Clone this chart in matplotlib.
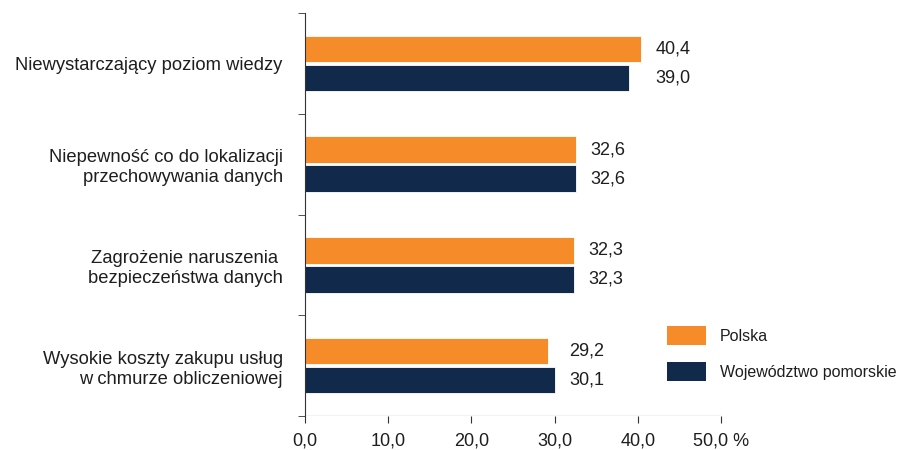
import numpy as np
import matplotlib.pyplot as plt
from matplotlib.patches import Patch

plt.rcParams['font.family'] = ['Liberation Sans', 'DejaVu Sans']

categories = ['Niewystarczający poziom wiedzy',
              'Niepewność co do lokalizacji\nprzechowywania danych',
              'Zagrożenie naruszenia \nbezpieczeństwa danych',
              'Wysokie koszty zakupu usług\nw chmurze obliczeniowej']
polska = [40.4, 32.6, 32.3, 29.2]
pomorskie = [39.0, 32.6, 32.3, 30.1]
series_names = ['Polska', 'Województwo pomorskie']
xticks = [0, 10, 20, 30, 40, 50]

orange = '#F68B2A'
navy = '#112A4B'
txt = '#1e1e1e'


def fmt(v):
    return f'{v:.1f}'.replace('.', ',')


fig = plt.figure(figsize=(8.98, 4.5), dpi=100)
ax = fig.add_axes([305 / 898, 1 - 416 / 450, 416 / 898, 403 / 450])

y = np.arange(len(categories))
h = 0.265
off = 0.144
ax.barh(y - off, polska, height=h, color=orange, edgecolor='white', linewidth=0.6)
ax.barh(y + off, pomorskie, height=h, color=navy, edgecolor='white', linewidth=0.6)

# labels sit just past the longer bar of each pair
for yi, a, b in zip(y, polska, pomorskie):
    xl = max(a, b) + 1.7
    ax.text(xl, yi - off, fmt(a), va='center', ha='left', fontsize=13, color=txt)
    ax.text(xl, yi + off, fmt(b), va='center', ha='left', fontsize=13, color=txt)

ax.set_xlim(0, 50)
ax.set_ylim(len(categories) - 0.5, -0.5)
ax.set_xticks(xticks)
ax.set_xticklabels([fmt(t) for t in xticks[:-1]] + ['50,0 %'], fontsize=13, color=txt)
ax.set_yticks(y)
ax.set_yticklabels(categories, fontsize=13.2, color=txt, linespacing=1.25)
ax.tick_params(axis='y', which='major', length=0, pad=16)
ax.set_yticks(np.arange(-0.5, len(categories)), minor=True)
ax.tick_params(axis='y', which='minor', length=5, direction='out', color='#333333')
ax.tick_params(axis='x', length=5, direction='out', color='#333333', pad=7)

for s in ['top', 'right', 'bottom']:
    ax.spines[s].set_visible(False)
ax.spines['left'].set_color('#333333')
ax.axhline(len(categories) - 0.5, color='#333333', linewidth=0.8)

handles = [Patch(facecolor=orange), Patch(facecolor=navy)]
fig.legend(handles, series_names, loc='upper left', bbox_to_anchor=(653 / 898, 1 - 312 / 450),
           frameon=False, fontsize=11.5, handlelength=2.4, handleheight=1.45,
           labelspacing=1.05, handletextpad=0.9, labelcolor=txt)

fig.savefig('out.png', dpi=100)
